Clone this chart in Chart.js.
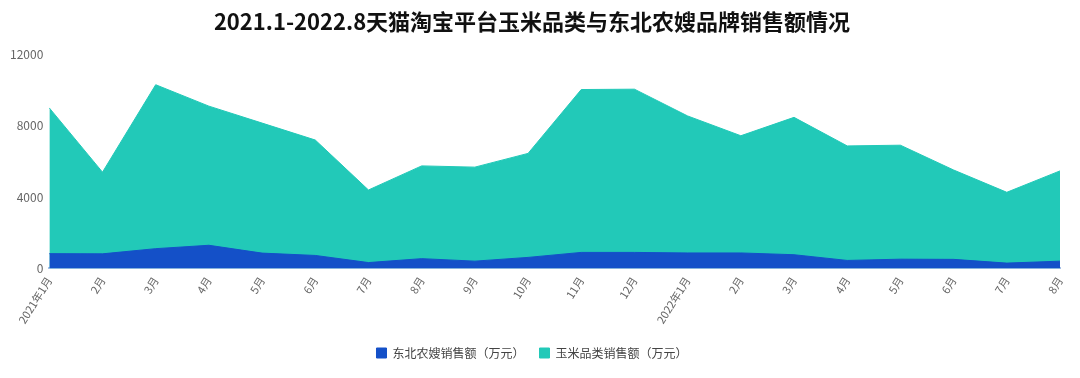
<!DOCTYPE html>
<html>
<head>
<meta charset="utf-8">
<script src="https://cdn.jsdelivr.net/npm/chart.js@4/dist/chart.umd.min.js"></script>
<style>
	html, body { margin: 0; padding: 0; background: #fff; }
	#wrap { width: 1080px; height: 378px; }
</style>
</head>
<body>
<div id="wrap"><canvas id="sales-chart"></canvas></div>
<script>
	'use strict';

	// Month labels (x axis).
	const months = [
		'2021年1月', '2月', '3月', '4月', '5月', '6月', '7月', '8月', '9月', '10月', '11月', '12月',
		'2022年1月', '2月', '3月', '4月', '5月', '6月', '7月', '8月'
	];

	// 东北农嫂销售额（万元）
	const brandSales = [
		830, 820, 1110, 1300, 860, 730, 330, 550, 410, 620,
		900, 900, 870, 870, 770, 450, 520, 510, 300, 410
	];

	// 玉米品类销售额（万元）
	const categorySales = [
		9000, 5400, 10300, 9100, 8150, 7200, 4400, 5750, 5680, 6450,
		10030, 10050, 8550, 7440, 8470, 6870, 6910, 5520, 4270, 5470
	];

	const yTicks = [0, 4000, 8000, 12000];

	const fontFamily = '"Noto Sans CJK SC", "Noto Sans", sans-serif';

	const colors = {
		blue: '#1450c8',
		teal: '#22c9b8'
	};

	const ctx = document.getElementById('sales-chart').getContext('2d');
	new Chart(ctx, {
		type: 'line',
		data: {
			labels: months,
			datasets: [
				{
					label: '东北农嫂销售额（万元）',
					data: brandSales,
					borderColor: colors.blue,
					backgroundColor: colors.blue,
					borderWidth: 1,
					pointRadius: 0,
					fill: 'origin',
					tension: 0
				},
				{
					label: '玉米品类销售额（万元）',
					data: categorySales,
					borderColor: colors.teal,
					backgroundColor: colors.teal,
					borderWidth: 1,
					pointRadius: 0,
					fill: 'origin',
					tension: 0
				}
			]
		},
		options: {
			responsive: true,
			maintainAspectRatio: false,
			animation: false,
			layout: {
				padding: { left: 4, right: 20, top: 0, bottom: 9 }
			},
			plugins: {
				title: {
					display: true,
					text: '2021.1-2022.8天猫淘宝平台玉米品类与东北农嫂品牌销售额情况',
					color: '#111',
					font: { family: fontFamily, size: 22, weight: 'bold' },
					padding: { top: 8, bottom: 20 }
				},
				legend: {
					position: 'bottom',
					labels: {
						boxWidth: 10,
						boxHeight: 10,
						padding: 15,
						color: '#444',
						font: { family: fontFamily, size: 12 }
					}
				},
				tooltip: { enabled: false }
			},
			scales: {
				x: {
					offset: false,
					grid: { display: false, drawTicks: false },
					border: { display: true, color: '#a9c1e6', width: 2 },
					ticks: {
						color: '#666',
						font: { family: fontFamily, size: 11 },
						minRotation: 58,
						maxRotation: 58,
						autoSkip: false,
						padding: 6
					}
				},
				y: {
					min: 0,
					max: 12000,
					afterBuildTicks: function(axis) {
						axis.ticks = yTicks.map(function(v) { return { value: v }; });
					},
					grid: { display: false, drawTicks: false },
					border: { display: false },
					ticks: {
						color: '#666',
						font: { family: fontFamily, size: 12 },
						padding: 6,
						callback: function(value) { return String(value); }
					}
				}
			}
		}
	});
</script>
</body>
</html>
